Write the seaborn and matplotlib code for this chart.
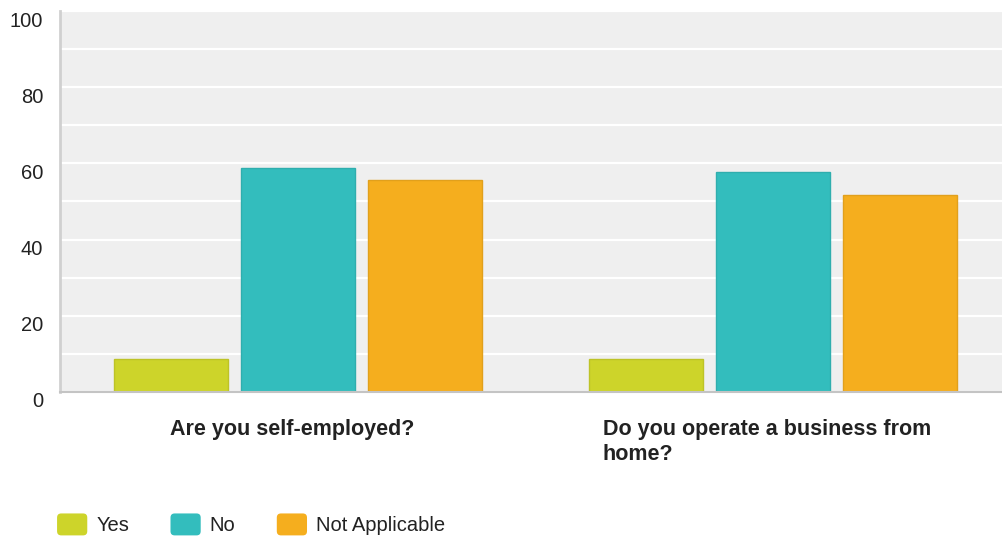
import matplotlib
matplotlib.use("Agg")
import matplotlib.pyplot as plt
import matplotlib.colors as mcolors
from matplotlib.patches import FancyBboxPatch, Patch
from matplotlib.legend_handler import HandlerPatch
from matplotlib.transforms import ScaledTranslation
import numpy as np
import pandas as pd
import seaborn as sns

# Survey answers (percent of respondents)
questions = ["Are you self-employed?", "Do you operate a business from\nhome?"]
answers = ["Yes", "No", "Not Applicable"]
yes_values = [8.5, 8.5]
no_values = [58.7, 57.7]
na_values = [55.6, 51.7]
colors = ["#CDD42A", "#33BDBD", "#F5AE1E"]
y_major = [0, 20, 40, 60, 80, 100]
y_minor = [10, 30, 50, 70, 90]

df = pd.DataFrame({
    "question": questions * 3,
    "answer": [a for a in answers for _ in questions],
    "percent": yes_values + no_values + na_values,
})

sns.set_theme(style="white")
plt.rcParams["font.family"] = ["Liberation Sans", "DejaVu Sans"]

fig = plt.figure(figsize=(10.03, 5.38), dpi=100)
ax = fig.add_axes([60 / 1003, (538 - 391.7) / 538, (1003 - 60) / 1003, 380.5 / 538])

sns.barplot(data=df, x="question", y="percent", hue="answer", hue_order=answers,
            order=questions, palette=colors, saturation=1, width=0.8, gap=0.1,
            linewidth=1, edgecolor="none", ax=ax, legend=False)

# slightly darker outline on each bar
for p in ax.patches:
    fc = np.array(mcolors.to_rgb(p.get_facecolor()))
    p.set_edgecolor(fc * 0.92)
    p.set_linewidth(1)

ax.set_facecolor("#EFEFEF")
ax.set_xlim(-0.501, 1.484)
ax.set_ylim(0, 100)
ax.set_yticks(y_major)
ax.set_yticks(y_minor, minor=True)
ax.grid(True, axis="y", which="both", color="white", linewidth=1.6)
ax.set_axisbelow(True)
ax.set_xlabel("")
ax.set_ylabel("")

for side in ["top", "right"]:
    ax.spines[side].set_visible(False)
ax.spines["left"].set_color("#D0D0D0")
ax.spines["left"].set_linewidth(2)
ax.spines["bottom"].set_color("#C4C4C4")
ax.spines["bottom"].set_linewidth(1.5)

ax.tick_params(axis="y", which="both", length=0, labelsize=14.5, labelcolor="#222222", pad=12)
ax.tick_params(axis="x", length=0, labelsize=15.5, labelcolor="#222222", pad=20)
for lab in ax.get_xticklabels():
    lab.set_fontweight("bold")
    lab.set_multialignment("left")
    lab.set_verticalalignment("top")
    lab.set_linespacing(1.25)


class RoundedHandler(HandlerPatch):
    def create_artists(self, legend, orig_handle, xdescent, ydescent, width, height, fontsize, trans):
        box = FancyBboxPatch((-xdescent + 2, -ydescent + 2), width - 4, height - 4,
                             boxstyle="round,pad=2,rounding_size=3",
                             facecolor=orig_handle.get_facecolor(), edgecolor="none",
                             transform=trans)
        return [box]


handles = [Patch(facecolor=c) for c in colors]
leg = fig.legend(handles, answers, loc="lower left", bbox_to_anchor=(48 / 1003, -0.012),
                 ncol=3, frameon=False, fontsize=14.5, handlelength=1.5, handleheight=1.3,
                 handletextpad=0.45, columnspacing=2.05, borderaxespad=0.05,
                 handler_map={Patch: RoundedHandler()})
for t in leg.get_texts():
    t.set_color("#222222")

fig.canvas.draw()
y_offset = ScaledTranslation(0, -0.08, fig.dpi_scale_trans)
for tick in ax.yaxis.get_major_ticks():
    tick.label1.set_transform(tick.label1.get_transform() + y_offset)
x_offset = ScaledTranslation(-0.06, 0, fig.dpi_scale_trans)
for tick in ax.xaxis.get_major_ticks():
    tick.label1.set_transform(tick.label1.get_transform() + x_offset)

fig.savefig("out.png", dpi=100, facecolor="white")
